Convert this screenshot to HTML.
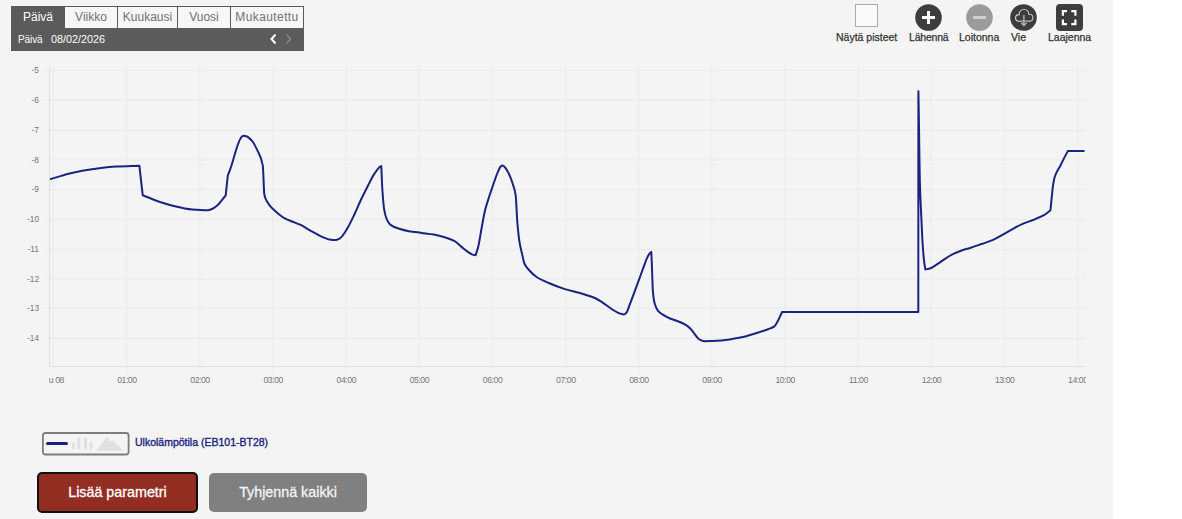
<!DOCTYPE html>
<html><head><meta charset="utf-8"><title>Chart</title>
<style>
*{box-sizing:border-box;margin:0;padding:0}
html,body{width:1182px;height:519px;overflow:hidden;background:#fff;font-family:"Liberation Sans",Arial,sans-serif}
.page{position:absolute;left:0;top:0;width:1113px;height:519px;background:#f4f4f4}
.chart{position:absolute;left:0;top:0}
.nav{position:absolute;left:11px;top:6px;width:293px;height:45px;background:#5b5b5b}
.tab{position:absolute;top:1px;height:21px;background:#f7f7f7;color:#727272;font-size:12px;line-height:21px;text-align:center;white-space:nowrap}
.tab.act{background:#5b5b5b;color:#fff}
.sub{position:absolute;left:7px;top:26.6px;color:#fff;font-size:10.8px;line-height:12px;white-space:nowrap}
.chev{position:absolute;top:27px}
.tool{position:absolute;top:0;font-size:10.5px;color:#333;white-space:nowrap}
.tlabel{position:absolute;top:31px;font-size:10.5px;line-height:12px;color:#333;-webkit-text-stroke:0.25px #333;white-space:nowrap}
.btn{position:absolute;display:block;color:#fff;font-size:14.3px;text-align:center;white-space:nowrap;-webkit-text-stroke:0.3px currentColor}
</style></head><body>
<div class="page"></div>
<svg class="chart" width="1182" height="519" viewBox="0 0 1182 519">
<defs><clipPath id="pc"><rect x="50" y="56" width="1037" height="310"/></clipPath>
<clipPath id="lc"><rect x="49" y="370" width="1037" height="20"/></clipPath></defs>
<rect x="45" y="69.90" width="1041" height="1" fill="#eaeaea"/><rect x="45" y="99.90" width="1041" height="1" fill="#eaeaea"/><rect x="45" y="129.86" width="1041" height="1" fill="#eaeaea"/><rect x="45" y="159.44" width="1041" height="1" fill="#eaeaea"/><rect x="45" y="188.89" width="1041" height="1" fill="#eaeaea"/><rect x="45" y="218.89" width="1041" height="1" fill="#eaeaea"/><rect x="45" y="248.89" width="1041" height="1" fill="#eaeaea"/><rect x="45" y="278.38" width="1041" height="1" fill="#eaeaea"/><rect x="45" y="307.86" width="1041" height="1" fill="#eaeaea"/><rect x="45" y="337.80" width="1041" height="1" fill="#eaeaea"/><rect x="53.00" y="66" width="1" height="305" fill="#eaeaea"/><rect x="126.15" y="66" width="1" height="305" fill="#eaeaea"/><rect x="199.30" y="66" width="1" height="305" fill="#eaeaea"/><rect x="272.45" y="66" width="1" height="305" fill="#eaeaea"/><rect x="345.60" y="66" width="1" height="305" fill="#eaeaea"/><rect x="418.75" y="66" width="1" height="305" fill="#eaeaea"/><rect x="491.90" y="66" width="1" height="305" fill="#eaeaea"/><rect x="565.05" y="66" width="1" height="305" fill="#eaeaea"/><rect x="638.20" y="66" width="1" height="305" fill="#eaeaea"/><rect x="711.35" y="66" width="1" height="305" fill="#eaeaea"/><rect x="784.50" y="66" width="1" height="305" fill="#eaeaea"/><rect x="857.65" y="66" width="1" height="305" fill="#eaeaea"/><rect x="930.80" y="66" width="1" height="305" fill="#eaeaea"/><rect x="1003.95" y="66" width="1" height="305" fill="#eaeaea"/><rect x="1077.10" y="66" width="1" height="305" fill="#eaeaea"/>
<rect x="49" y="66" width="1" height="301" fill="#e0e0e0"/>
<rect x="49" y="366" width="1037" height="1" fill="#e0e0e0"/>
<g font-family="Liberation Sans, sans-serif" font-size="8.3" fill="#777"><text x="39" y="73.0" text-anchor="end">-5</text><text x="39" y="103.0" text-anchor="end">-6</text><text x="39" y="133.0" text-anchor="end">-7</text><text x="39" y="162.5" text-anchor="end">-8</text><text x="39" y="192.0" text-anchor="end">-9</text><text x="39" y="222.0" text-anchor="end">-10</text><text x="39" y="252.0" text-anchor="end">-11</text><text x="39" y="281.5" text-anchor="end">-12</text><text x="39" y="311.0" text-anchor="end">-13</text><text x="39" y="340.9" text-anchor="end">-14</text></g>
<g clip-path="url(#lc)" font-family="Liberation Sans, sans-serif" font-size="8.7" letter-spacing="-0.45" fill="#777" text-anchor="middle"><text x="53.7" y="383">Su 08</text><text x="126.9" y="383">01:00</text><text x="200.0" y="383">02:00</text><text x="273.2" y="383">03:00</text><text x="346.3" y="383">04:00</text><text x="419.4" y="383">05:00</text><text x="492.6" y="383">06:00</text><text x="565.8" y="383">07:00</text><text x="638.9" y="383">08:00</text><text x="712.1" y="383">09:00</text><text x="785.2" y="383">10:00</text><text x="858.4" y="383">11:00</text><text x="931.5" y="383">12:00</text><text x="1004.7" y="383">13:00</text><text x="1077.8" y="383">14:00</text></g>
<path clip-path="url(#pc)" d="M47.00 179.60C48.03 179.40 49.07 179.23 50.10 179.00C56.93 177.50 63.77 174.70 70.60 173.20C78.23 171.52 85.87 170.13 93.50 169.10C101.17 168.06 108.83 167.01 116.50 166.60C124.13 166.20 131.77 166.07 139.40 165.80L142.70 195.20C148.47 197.47 154.23 200.11 160.00 202.00C165.30 203.74 170.60 205.30 175.90 206.50C181.20 207.70 186.50 209.08 191.80 209.50C197.10 209.92 202.40 210.30 207.70 210.30C209.10 210.30 210.50 209.59 211.90 209.00C213.67 208.26 215.43 206.90 217.20 205.40C220.03 203.00 222.87 198.67 225.70 195.30L227.80 175.50C228.53 173.60 229.27 171.76 230.00 169.80C233.87 159.45 237.73 140.42 241.60 137.00C242.30 136.38 243.00 135.70 243.70 135.70C244.77 135.70 245.83 136.10 246.90 136.50C248.67 137.16 250.43 139.10 252.20 141.20C253.97 143.30 255.73 146.83 257.50 150.70C259.27 154.57 261.03 155.55 262.80 165.60C263.30 168.44 263.80 191.26 264.30 194.20C264.70 196.55 265.10 197.49 265.50 198.50C265.97 199.68 266.43 200.40 266.90 201.20C267.87 202.86 268.83 204.41 269.80 205.60C271.40 207.56 273.00 208.89 274.60 210.40C276.23 211.95 277.87 213.53 279.50 214.80C281.10 216.05 282.70 217.22 284.30 218.10C286.87 219.50 289.43 220.43 292.00 221.50C294.90 222.70 297.80 223.51 300.70 224.90C302.60 225.81 304.50 227.21 306.40 228.30C309.30 229.97 312.20 231.55 315.10 233.10C317.67 234.47 320.23 236.05 322.80 237.10C325.37 238.15 327.93 239.37 330.50 239.70C332.07 239.90 333.63 240.10 335.20 240.10C336.53 240.10 337.87 239.52 339.20 238.90C339.97 238.54 340.73 237.70 341.50 236.90C342.60 235.76 343.70 234.12 344.80 232.50C345.90 230.88 347.00 229.06 348.10 227.10C350.27 223.23 352.43 218.58 354.60 214.00C356.80 209.35 359.00 203.95 361.20 199.30C363.37 194.72 365.53 190.40 367.70 186.20C369.90 181.94 372.10 177.28 374.30 173.90C375.93 171.39 377.57 168.79 379.20 167.40C379.90 166.81 380.60 166.47 381.30 166.00C381.57 172.33 381.83 179.98 382.10 185.00C382.27 188.14 382.43 190.79 382.60 193.00C383.10 199.64 383.60 206.11 384.10 209.10C384.93 214.08 385.77 216.97 386.60 218.90C387.80 221.68 389.00 223.67 390.20 224.60C393.23 226.95 396.27 227.81 399.30 228.80C402.50 229.84 405.70 230.63 408.90 231.20C413.07 231.94 417.23 232.33 421.40 232.90C425.57 233.47 429.73 233.86 433.90 234.60C437.77 235.28 441.63 236.32 445.50 237.50C448.40 238.38 451.30 239.29 454.20 240.80C456.77 242.14 459.33 245.04 461.90 247.10C464.13 248.90 466.37 250.95 468.60 252.40C469.90 253.24 471.20 254.23 472.50 254.60C473.53 254.89 474.57 255.00 475.60 255.20C476.43 252.57 477.27 250.59 478.10 247.30C479.23 242.83 480.37 234.86 481.50 228.80C482.67 222.56 483.83 215.14 485.00 210.40C486.17 205.66 487.33 202.48 488.50 198.80C490.03 193.96 491.57 189.41 493.10 185.00C494.63 180.59 496.17 175.77 497.70 172.30C498.63 170.19 499.57 167.70 500.50 166.80C501.10 166.22 501.70 165.60 502.30 165.60C502.87 165.60 503.43 166.02 504.00 166.40C505.37 167.31 506.73 169.82 508.10 172.30C509.63 175.09 511.17 179.07 512.70 183.80C513.70 186.88 514.70 188.71 515.70 195.40C516.23 198.97 516.77 215.55 517.30 221.90C518.07 231.03 518.83 238.08 519.60 242.70C520.40 247.52 521.20 250.04 522.00 253.50C522.80 256.96 523.60 261.69 524.40 263.50C525.77 266.59 527.13 267.91 528.50 269.50C531.20 272.64 533.90 275.22 536.60 277.00C540.63 279.66 544.67 281.26 548.70 283.00C554.10 285.33 559.50 287.40 564.90 289.10C570.73 290.93 576.57 292.02 582.40 293.80C586.90 295.17 591.40 296.44 595.90 298.50C598.13 299.52 600.37 301.14 602.60 302.60C605.77 304.67 608.93 307.28 612.10 309.30C613.97 310.49 615.83 311.73 617.70 312.60C618.97 313.19 620.23 313.87 621.50 314.10C622.30 314.25 623.10 314.40 623.90 314.40C624.67 314.40 625.43 313.65 626.20 312.90C627.50 311.63 628.80 306.87 630.10 303.60C631.63 299.74 633.17 295.42 634.70 291.30C636.23 287.18 637.77 283.09 639.30 278.90C640.60 275.35 641.90 271.61 643.20 268.10C644.47 264.68 645.73 260.77 647.00 258.10C647.83 256.34 648.67 254.62 649.50 253.60C650.10 252.87 650.70 252.47 651.30 251.90C651.53 257.30 651.77 262.42 652.00 268.10C652.30 275.40 652.60 287.84 652.90 291.30C653.50 298.23 654.10 301.47 654.70 303.60C655.73 307.27 656.77 309.31 657.80 310.60C659.33 312.51 660.87 313.38 662.40 314.40C664.93 316.08 667.47 317.40 670.00 318.50C673.27 319.92 676.53 320.63 679.80 322.00C682.03 322.93 684.27 323.88 686.50 325.30C687.67 326.04 688.83 327.04 690.00 328.20C691.00 329.20 692.00 330.70 693.00 331.90C695.20 334.55 697.40 338.42 699.60 339.60C701.07 340.39 702.53 341.20 704.00 341.20C706.67 341.20 709.33 341.09 712.00 341.00C715.20 340.89 718.40 340.74 721.60 340.50C727.83 340.04 734.07 338.85 740.30 337.60C745.80 336.50 751.30 334.69 756.80 333.00C760.53 331.85 764.27 330.64 768.00 329.20C770.13 328.38 772.27 327.96 774.40 326.40C775.03 325.94 775.67 324.80 776.30 323.80C778.23 320.74 780.17 315.93 782.10 312.00L918.30 312.00L918.40 91.20C918.57 100.80 918.73 109.09 918.90 120.00C919.03 128.73 919.17 141.07 919.30 150.00C919.47 161.16 919.63 173.76 919.80 180.00C920.33 199.96 920.87 207.32 921.40 219.00C921.83 228.49 922.27 238.70 922.70 245.00C923.23 252.75 923.77 258.99 924.30 263.00C924.67 265.76 925.03 267.27 925.40 269.40C926.93 269.10 928.47 268.94 930.00 268.50C931.80 267.98 933.60 266.51 935.40 265.40C937.73 263.96 940.07 262.26 942.40 260.70C945.10 258.89 947.80 256.73 950.50 255.30C954.23 253.33 957.97 251.81 961.70 250.50C964.47 249.53 967.23 248.89 970.00 248.00C973.87 246.76 977.73 245.36 981.60 244.00C985.43 242.66 989.27 241.55 993.10 239.90C996.97 238.24 1000.83 235.76 1004.70 233.60C1007.77 231.88 1010.83 229.93 1013.90 228.30C1017.00 226.65 1020.10 225.04 1023.20 223.70C1027.03 222.04 1030.87 220.89 1034.70 219.30C1037.80 218.01 1040.90 216.88 1044.00 215.10C1046.17 213.86 1048.33 211.83 1050.50 210.20C1050.87 206.33 1051.23 202.22 1051.60 198.60C1052.10 193.67 1052.60 188.00 1053.10 184.80C1053.63 181.39 1054.17 178.73 1054.70 177.00C1055.47 174.52 1056.23 173.14 1057.00 171.60C1058.03 169.52 1059.07 168.14 1060.10 166.20C1061.10 164.32 1062.10 162.08 1063.10 160.10C1064.67 157.00 1066.23 154.10 1067.80 151.10L1083.80 151.10" fill="none" stroke="#1a237e" stroke-width="2" stroke-linejoin="round" stroke-linecap="round"/>
</svg>
<div class="nav">
  <div class="tab act" style="left:0;width:54px;top:0;height:22px;line-height:22px">Päivä</div>
  <div class="tab" style="left:54px;width:52px">Viikko</div>
  <div class="tab" style="left:107px;width:59px">Kuukausi</div>
  <div class="tab" style="left:167px;width:52px">Vuosi</div>
  <div class="tab" style="left:220px;width:72px;letter-spacing:0.4px">Mukautettu</div>
  <div class="sub"><span style="font-size:10px;letter-spacing:-0.1px">Päivä</span><span style="position:absolute;left:33px;top:0">08/02/2026</span></div>
  <svg class="chev" style="left:258px" width="9" height="12" viewBox="0 0 9 12"><path d="M6.5 1.5 L2.5 6 L6.5 10.5" fill="none" stroke="#fff" stroke-width="2"/></svg>
  <svg class="chev" style="left:273px" width="9" height="12" viewBox="0 0 9 12"><path d="M2.5 1.5 L6.5 6 L2.5 10.5" fill="none" stroke="#888" stroke-width="1.5"/></svg>
</div>

<!-- toolbar -->
<div style="position:absolute;left:855px;top:4px;width:23px;height:23px;border:1px solid #aaa;background:#fafafa"></div>
<div class="tlabel" style="left:836px">Näytä pisteet</div>
<svg style="position:absolute;left:915px;top:4px" width="27" height="27" viewBox="0 0 27 27"><circle cx="13.5" cy="13.5" r="13.3" fill="#3d3d3d"/><path d="M7 13.5h13M13.5 7v13" stroke="#fff" stroke-width="3"/></svg>
<div class="tlabel" style="left:909px;letter-spacing:-0.2px">Lähennä</div>
<svg style="position:absolute;left:966px;top:4px" width="27" height="27" viewBox="0 0 27 27"><circle cx="13.5" cy="13.5" r="13.3" fill="#9b9b9b"/><path d="M7 13.5h13" stroke="#cfcfcf" stroke-width="3"/></svg>
<div class="tlabel" style="left:959px">Loitonna</div>
<svg style="position:absolute;left:1010px;top:4px" width="27" height="27" viewBox="0 0 27 27"><circle cx="13.5" cy="13.5" r="13.3" fill="#3d3d3d"/>
<g fill="#3d3d3d" stroke="#e6e6e6" stroke-width="1.8"><circle cx="8.7" cy="13.9" r="2.7"/><circle cx="14" cy="10.3" r="4.5"/><circle cx="19.6" cy="13.7" r="2.9"/><rect x="8.7" y="12" width="10.9" height="4.6"/></g>
<g fill="#3d3d3d"><circle cx="8.7" cy="13.9" r="2.7"/><circle cx="14" cy="10.3" r="4.5"/><circle cx="19.6" cy="13.7" r="2.9"/><rect x="8.7" y="12" width="10.9" height="4.6"/></g>
<path d="M13.9 11v10.3M11.2 18.7l2.7 2.8l2.7-2.8" fill="none" stroke="#b5b5b5" stroke-width="1.4"/></svg>
<div class="tlabel" style="left:1011px">Vie</div>
<svg style="position:absolute;left:1056px;top:4px" width="27" height="27" viewBox="0 0 27 27"><rect x="0" y="0" width="27" height="27" rx="4" fill="#3d3d3d"/>
<path d="M6.9 11.7V7.2H11M15.3 7.2H19.4V11.7M19.4 15.6V20.1H15.3M11 20.1H6.9V15.6" fill="none" stroke="#fff" stroke-width="2.2"/></svg>
<div class="tlabel" style="left:1048px">Laajenna</div>

<!-- legend -->
<svg style="position:absolute;left:42px;top:432px" width="88" height="24" viewBox="0 0 88 24">
<rect x="0.9" y="1.0" width="85.7" height="21.5" rx="2.5" fill="#f4f4f4" stroke="#7d7d7d" stroke-width="1.8"/>
<path d="M5.5 11.4H24.5" stroke="#1a237e" stroke-width="3" stroke-linecap="round"/>
<g stroke="#e0e0e0" stroke-width="3" stroke-linecap="round"><path d="M31.5 11.5v4.5M36.8 6.5v9.5M43.5 6.5v9.5M49 11.5v4.5"/></g>
<path d="M54.7 18.7L64.9 4.5L68.8 9.7L70.7 8L81 18.7Z" fill="#e0e0e0"/>
</svg>
<div style="position:absolute;left:135px;top:436px;font-size:10.5px;line-height:12px;color:#1a237e;-webkit-text-stroke:0.35px #1a237e;white-space:nowrap">Ulkolämpötila (EB101-BT28)</div>

<!-- buttons -->
<div class="btn" style="left:37px;top:472px;width:161px;height:41px;background:#922d22;border:2px solid #111;border-radius:5px;line-height:37px">Lisää parametri</div>
<div class="btn" style="left:209px;top:473px;width:158px;height:39px;background:#808080;border-radius:5px;line-height:39px;color:#f4f4f4">Tyhjennä kaikki</div>
</body></html>
